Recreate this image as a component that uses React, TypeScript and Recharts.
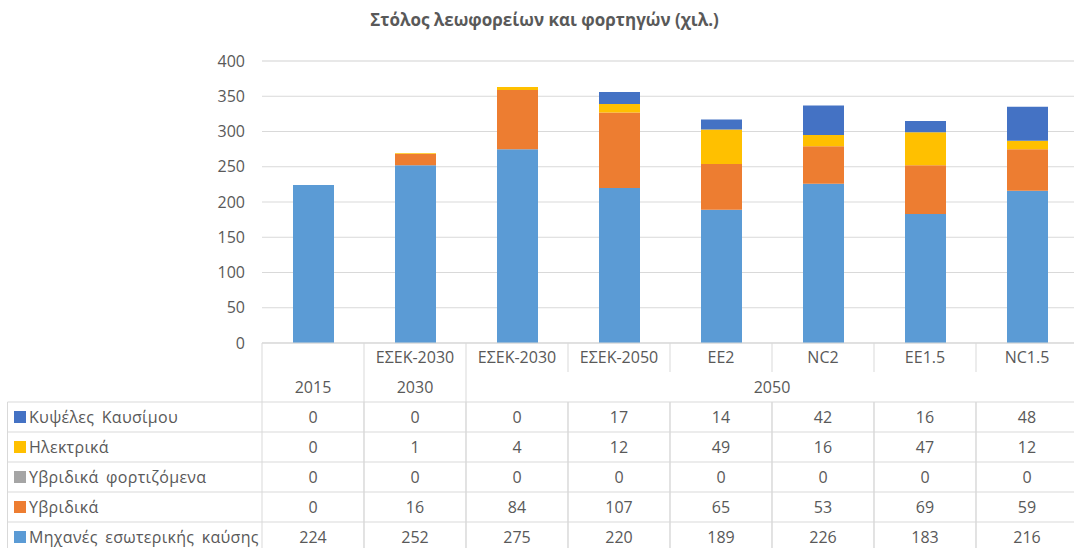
import React from "react";
import { BarChart, Bar, XAxis, YAxis, CartesianGrid } from "recharts";

// scenario labels (first header row) and the year group of each column
const categories = ["", "ΕΣΕΚ-2030", "ΕΣΕΚ-2030", "ΕΣΕΚ-2050", "EE2", "NC2", "EE1.5", "NC1.5"];
const years = ["2015", "2030", "2050", "2050", "2050", "2050", "2050", "2050"];

// thousands of vehicles
const ice = [224, 252, 275, 220, 189, 226, 183, 216];
const hybrid = [0, 16, 84, 107, 65, 53, 69, 59];
const plugIn = [0, 0, 0, 0, 0, 0, 0, 0];
const electric = [0, 1, 4, 12, 49, 16, 47, 12];
const fuelCell = [0, 0, 0, 17, 14, 42, 16, 48];

const yTicks = [0, 50, 100, 150, 200, 250, 300, 350, 400];
const minorTicks = [10, 20, 30, 40, 60, 70, 80, 90, 110, 120, 130, 140, 160, 170, 180, 190, 210, 220, 230, 240, 260, 270, 280, 290, 310, 320, 330, 340, 360, 370, 380, 390];

// table order (top to bottom)
const series = [
  { key: "fuelCell", name: "Κυψέλες Καυσίμου", color: "#4472C4", values: fuelCell },
  { key: "electric", name: "Ηλεκτρικά", color: "#FFC000", values: electric },
  { key: "plugIn", name: "Υβριδικά φορτιζόμενα", color: "#A5A5A5", values: plugIn },
  { key: "hybrid", name: "Υβριδικά", color: "#ED7D31", values: hybrid },
  { key: "ice", name: "Μηχανές εσωτερικής καύσης", color: "#5B9BD5", values: ice },
];

const data = categories.map((c, i) => {
  const row: Record<string, any> = { id: "c" + i };
  series.forEach((s) => (row[s.key] = s.values[i]));
  return row;
});

const FONT = "'Open Sans', sans-serif";
const TEXT = "#595959";
const LINE = "#D9D9D9";
const H1 = 29;
const H2 = 30;
const ROW = 30;
const LEGEND_LEFT = 7.5;

const TableTick = (props: any) => {
  const { x, y, index, payload, width } = props;
  const colW = payload && payload.offset ? payload.offset * 2 : width / categories.length;
  const left = x - colW / 2;
  const right = x + colW / 2;
  const yH1 = y + H1;
  const yRows = yH1 + H2;
  const rowsBottom = yRows + ROW * series.length;

  const groupStart = index === 0 || years[index] !== years[index - 1];
  let span = 1;
  while (index + span < years.length && years[index + span] === years[index]) span++;

  const txt = { fontFamily: FONT, fontSize: 16, fill: TEXT };

  return (
    <g>
      {/* header row 1 */}
      <line x1={left} y1={y} x2={left} y2={yH1} stroke={LINE} />
      <text x={x} y={y + H1 / 2} dy="0.35em" textAnchor="middle" {...txt}>
        {categories[index]}
      </text>
      {/* year row */}
      {groupStart && (
        <>
          <line x1={left} y1={yH1} x2={left} y2={yRows} stroke={LINE} />
          <text x={left + (colW * span) / 2} y={yH1 + H2 / 2} dy="0.35em" textAnchor="middle" {...txt}>
            {years[index]}
          </text>
        </>
      )}
      {/* data rows */}
      <line x1={left} y1={yRows} x2={left} y2={rowsBottom} stroke={LINE} />
      <line x1={right} y1={index === categories.length - 1 ? y : yRows} x2={right} y2={rowsBottom} stroke={LINE} />
      {series.map((s, k) => (
        <g key={s.key}>
          <line x1={left} y1={yRows + k * ROW} x2={right} y2={yRows + k * ROW} stroke={LINE} />
          <text x={x} y={yRows + k * ROW + ROW / 2} dy="0.35em" textAnchor="middle" {...txt}>
            {s.values[index]}
          </text>
        </g>
      ))}
      {/* legend column */}
      {index === 0 && (
        <g>
          <line x1={LEGEND_LEFT} y1={yRows} x2={LEGEND_LEFT} y2={rowsBottom} stroke={LINE} />
          {series.map((s, k) => (
            <g key={s.key}>
              <line x1={LEGEND_LEFT} y1={yRows + k * ROW} x2={left} y2={yRows + k * ROW} stroke={LINE} />
              <rect x={14} y={yRows + k * ROW + 9} width={12} height={12} fill={s.color} />
              <text
                x={29}
                y={yRows + k * ROW + ROW / 2}
                dy="0.35em"
                textAnchor="start"
                style={{ wordSpacing: 3, letterSpacing: 0.3 }}
                {...txt}
              >
                {s.name}
              </text>
            </g>
          ))}
        </g>
      )}
    </g>
  );
};

export default function App() {
  return (
    <div
      style={{
        position: "absolute",
        left: 0,
        top: 0,
        width: 1074,
        height: 548,
        overflow: "hidden",
        background: "#fff",
      }}
    >
      <div
        style={{
          position: "absolute",
          left: 0,
          top: 9,
          width: 1089,
          textAlign: "center",
          fontFamily: FONT,
          fontWeight: 700,
          fontSize: 17,
          lineHeight: "22px",
          color: TEXT,
        }}
      >
        Στόλος λεωφορείων και φορτηγών (χιλ.)
      </div>
      <BarChart
        width={1078}
        height={548}
        data={data}
        margin={{ top: 61, right: 0, bottom: 0, left: 0 }}
        barSize={41}
      >
        <CartesianGrid yAxisId="minor" vertical={false} stroke="#EFEFEF" />
        <CartesianGrid vertical={false} stroke={LINE} />
        <XAxis
          dataKey="id"
          height={205}
          interval={0}
          tickLine={false}
          tickSize={0}
          tickMargin={0}
          axisLine={{ stroke: LINE }}
          tick={<TableTick />}
        />
        <YAxis
          width={262}
          domain={[0, 400]}
          ticks={yTicks}
          interval={0}
          axisLine={false}
          tickLine={false}
          tickSize={0}
          tickMargin={17}
          tick={{ fontFamily: FONT, fontSize: 16, fill: TEXT }}
        />
        <YAxis yAxisId="minor" hide domain={[0, 400]} ticks={minorTicks} interval={0} />
        {[...series].reverse().map((s) => (
          <Bar key={s.key} dataKey={s.key} name={s.name} stackId="a" fill={s.color} isAnimationActive={false} />
        ))}
      </BarChart>
    </div>
  );
}
